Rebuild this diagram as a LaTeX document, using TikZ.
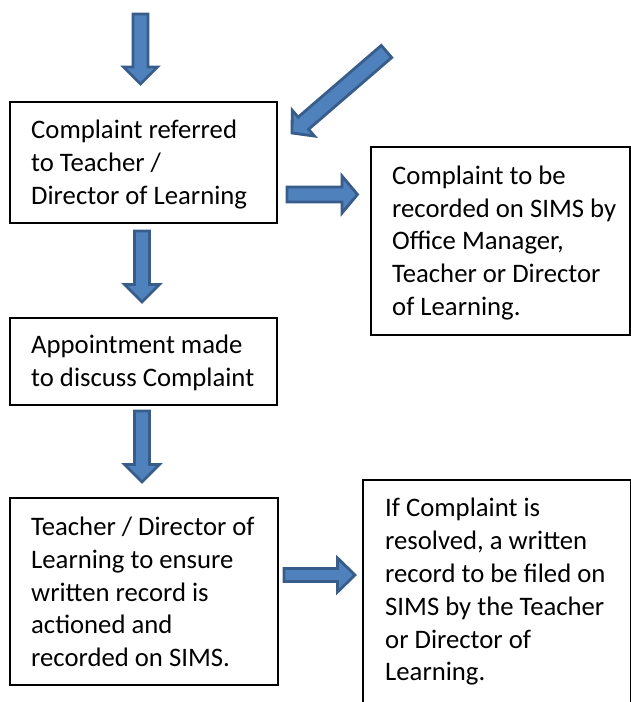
\documentclass[tikz,border=0pt]{standalone}
\usepackage{fontspec}
\setmainfont{Carlito}
\usetikzlibrary{calc}
\definecolor{arrfill}{HTML}{4F81BD}
\definecolor{arrline}{HTML}{385D8A}
\newcommand\blockarrowdraw[5]{%
  \coordinate (hb) at ($(#2)!#5!(#1)$);
  \draw[barrow] ($(#1)!#3!90:(#2)$) -- ($(hb)!#3!90:(#2)$) -- ($(hb)!#4!90:(#2)$) -- (#2)
    -- ($(hb)!#4!-90:(#2)$) -- ($(hb)!#3!-90:(#2)$) -- ($(#1)!#3!-90:(#2)$) -- cycle;}
\begin{document}
\begin{tikzpicture}[x=1pt,y=-1pt,
  box/.style={draw=black, line width=1.3pt, rectangle, inner sep=0pt},
  txt/.style={align=left, inner sep=0pt, anchor=west, font=\fontsize{26.7}{32.8}\selectfont},
  barrow/.style={fill=arrfill, draw=arrline, line width=2.8pt, line join=miter}]
\useasboundingbox (0,0) rectangle (631,702);
\clip (0,0) rectangle (631,702);
\fill[white] (0,0) rectangle (631,702);
% boxes
\node[box, minimum width=267pt, minimum height=121pt] (b1) at (143.5,162.5) {};
\node[box, minimum width=259pt, minimum height=188pt] (b2) at (500.5,241) {};
\node[box, minimum width=267pt, minimum height=87pt] (b3) at (143.5,361.5) {};
\node[box, minimum width=268pt, minimum height=187pt] (b4) at (144,591.5) {};
\node[rectangle, inner sep=0pt, minimum width=267pt, minimum height=240pt, anchor=north west] (b5) at (363,480) {};
\draw[line width=1.3pt] (b5.south west) -- (b5.north west) -- (b5.north east) -- (b5.south east);
% texts
\node[txt] (t1) at (31,164.5) {Complaint referred\\to Teacher /\\Director of Learning};
\node[txt] (t2) at (392,243) {Complaint to be\\recorded on SIMS by\\Office Manager,\\Teacher or Director\\of Learning.};
\node[txt] (t3) at (31,362.5) {Appointment made\\to discuss Complaint};
\node[txt] (t4) at (31,592) {Teacher / Director of\\Learning to ensure\\written record is\\actioned and\\recorded on SIMS.};
\node[txt] (t5) at (385,592) {If Complaint is\\resolved, a written\\record to be filed on\\SIMS by the Teacher\\or Director of\\Learning.};
% arrow end points
\coordinate (a1s) at (140.5,14);
\coordinate (a1e) at (140.5,84);
\coordinate (a2s) at (386.5,51.5);
\coordinate (a2e) at (292,133);
\coordinate (a3s) at (287,194.5);
\coordinate (a3e) at (357.5,194.5);
\coordinate (a4s) at (142,231);
\coordinate (a4e) at (142,302);
\coordinate (a5s) at (142,411);
\coordinate (a5e) at (142,482);
\coordinate (a6s) at (284,575);
\coordinate (a6e) at (355,575);
\blockarrowdraw{a1s}{a1e}{7.5pt}{17pt}{17pt}
\blockarrowdraw{a2s}{a2e}{8pt}{17pt}{15pt}
\blockarrowdraw{a3s}{a3e}{7.5pt}{18.5pt}{15.5pt}
\blockarrowdraw{a4s}{a4e}{7.5pt}{17.5pt}{17.5pt}
\blockarrowdraw{a5s}{a5e}{7.5pt}{17.5pt}{17.5pt}
\blockarrowdraw{a6s}{a6e}{6.5pt}{17pt}{17.5pt}
\end{tikzpicture}
\end{document}
